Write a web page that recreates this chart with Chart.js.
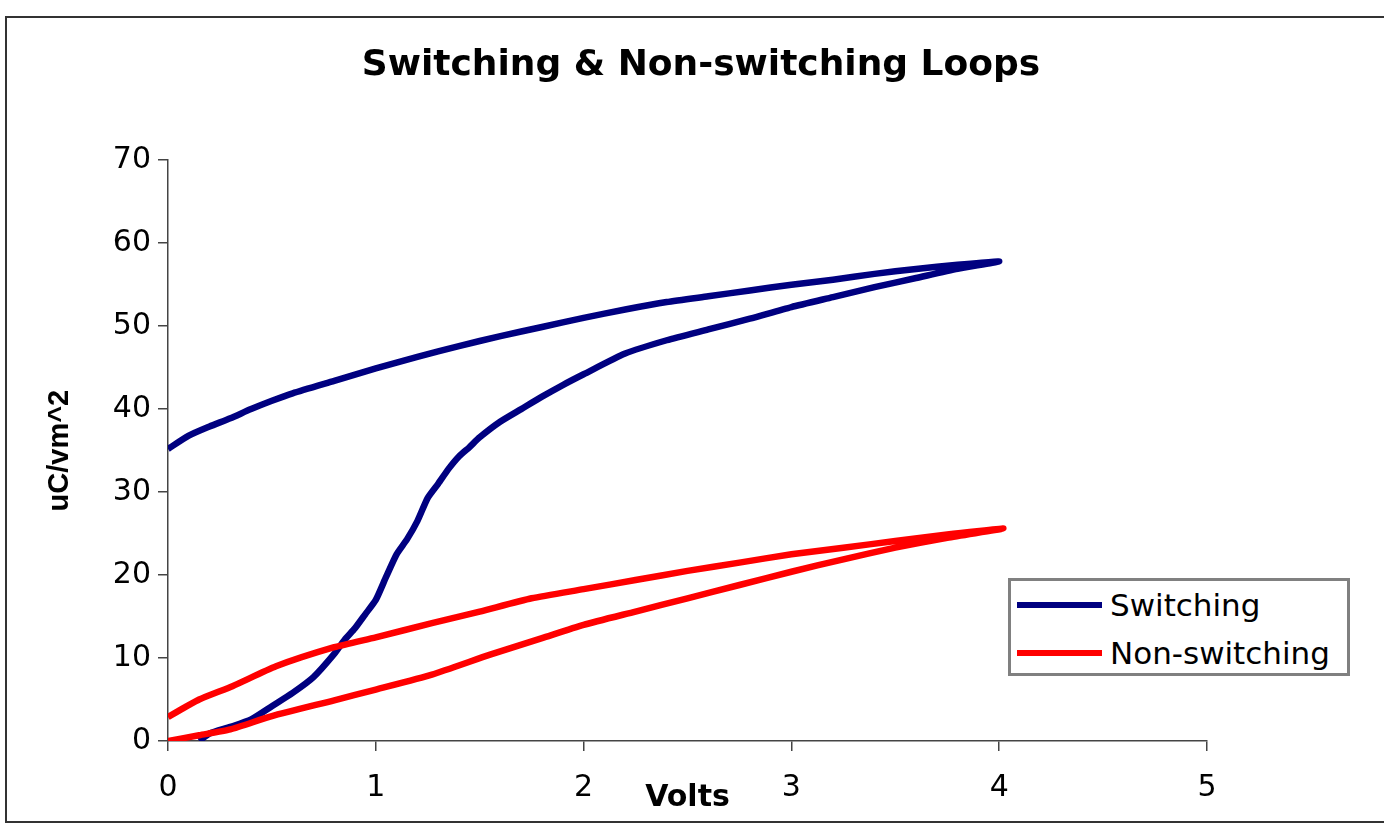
<!DOCTYPE html>
<html>
<head>
<meta charset="utf-8">
<script src="https://cdn.jsdelivr.net/npm/chart.js@4.4.1/dist/chart.umd.min.js"></script>
<style>
    body { margin: 0; background: #fff; overflow: hidden; }
    #wrap { position: relative; width: 1384px; height: 825px; }
    #frame { position: absolute; left: 5px; top: 16px; width: 1420px; height: 807px; border: 2px solid #333; box-sizing: border-box; pointer-events: none; }
    #legend { position: absolute; left: 1008px; top: 578px; width: 342px; height: 98px; border: 3px solid #808080; box-sizing: border-box; background: #fff; font-family: "DejaVu Sans", sans-serif; font-size: 31px; color: #000; }
    #legend .row { position: absolute; left: 6px; height: 40px; display: flex; align-items: center; }
    #legend .swatch { width: 85px; height: 6px; margin-right: 8px; }
</style>
</head>
<body>
<div id="wrap">
    <canvas id="loops" width="1384" height="825"></canvas>
    <div id="frame"></div>
    <div id="legend"></div>
</div>
<script>
// Tick labels
const xTicks = [0, 1, 2, 3, 4, 5];
const yTicks = [0, 10, 20, 30, 40, 50, 60, 70];

// Switching loop: rising branch, then falling branch back to 0 V
const switchingV = [0.15, 0.2, 0.3, 0.4, 0.5, 0.6, 0.7, 0.8, 0.85, 0.9, 0.95, 1.0, 1.05, 1.1, 1.15, 1.2, 1.25, 1.3, 1.35, 1.4, 1.45, 1.5,
    1.6, 1.7, 1.8, 1.9, 2.0, 2.2, 2.4, 2.6, 2.8, 3.0, 3.2, 3.4, 3.6, 3.8, 4.0,
    3.8, 3.6, 3.4, 3.2, 3.0, 2.8, 2.6, 2.4, 2.2, 2.0, 1.8, 1.6, 1.4, 1.2, 1.0, 0.8, 0.6, 0.5, 0.4, 0.3, 0.2, 0.1, 0];
const switchingQ = [0, 0.9, 1.7, 2.6, 4.2, 5.8, 7.7, 10.5, 12.2, 13.6, 15.3, 17, 19.8, 22.5, 24.3, 26.5, 29.3, 31, 32.8, 34.3, 35.4, 36.6,
    38.5, 40, 41.5, 42.9, 44.2, 46.7, 48.3, 49.6, 50.9, 52.3, 53.5, 54.7, 55.8, 56.9, 57.8,
    57.4, 56.9, 56.3, 55.6, 55.0, 54.3, 53.6, 52.9, 52.0, 51.0, 49.9, 48.8, 47.6, 46.3, 44.9, 43.4, 41.9, 41.0, 40.0, 38.9, 37.9, 36.8, 35.2];

// Non-switching loop
const nonSwitchingV = [0, 0.15, 0.3, 0.5, 0.8, 1.0, 1.27, 1.55, 1.8, 2.0, 2.25, 2.5, 2.75, 3.0, 3.25, 3.5, 3.75, 4.02,
    3.75, 3.5, 3.25, 3.0, 2.75, 2.5, 2.25, 2.0, 1.75, 1.5, 1.27, 1.0, 0.8, 0.52, 0.31, 0.15, 0];
const nonSwitchingQ = [0, 0.7, 1.4, 3.0, 4.9, 6.2, 8.0, 10.4, 12.4, 14.0, 15.6, 17.2, 18.8, 20.4, 21.9, 23.3, 24.5, 25.6,
    24.9, 24.1, 23.3, 22.5, 21.5, 20.5, 19.4, 18.3, 17.2, 15.6, 14.2, 12.5, 11.3, 9.0, 6.6, 5.0, 2.9];

function toPoints(xs, ys) {
    return xs.map((x, i) => ({ x: x, y: ys[i] }));
}

const axisColor = '#444';
const tickFont = { family: 'DejaVu Sans', size: 30 };

let chart = new Chart(document.getElementById('loops'), {
    type: 'scatter',
    data: {
        datasets: [
            {
                label: 'Switching',
                data: toPoints(switchingV, switchingQ),
                showLine: true,
                borderColor: '#000080',
                backgroundColor: '#000080',
                borderWidth: 6.5,
                pointRadius: 0,
                tension: 0.2,
                order: 2
            },
            {
                label: 'Non-switching',
                data: toPoints(nonSwitchingV, nonSwitchingQ),
                showLine: true,
                borderColor: '#ff0000',
                backgroundColor: '#ff0000',
                borderWidth: 6.5,
                pointRadius: 0,
                tension: 0.2,
                order: 1
            }
        ]
    },
    options: {
        responsive: false,
        animation: false,
        layout: { padding: { left: 18, right: 0, top: 0, bottom: 0 } },
        plugins: {
            legend: { display: false },
            tooltip: { enabled: false },
            title: {
                display: true,
                text: 'Switching & Non-switching Loops',
                color: '#000',
                font: { family: 'DejaVu Sans', size: 36, weight: 'bold' },
                padding: { top: 44, bottom: 73 }
            }
        },
        scales: {
            x: {
                type: 'linear',
                min: 0,
                max: 5,
                afterBuildTicks: (s) => { s.ticks = xTicks.map(v => ({ value: v })); },
                afterFit: (s) => { s.height = 84; },
                ticks: { color: '#000', font: tickFont, padding: 19, maxRotation: 0 },
                grid: { drawOnChartArea: false, drawTicks: true, tickLength: 10, color: axisColor, lineWidth: 1.5 },
                border: { color: axisColor, width: 1.5 },
                title: {
                    display: true,
                    text: 'Volts',
                    color: '#000',
                    font: { family: 'DejaVu Sans', size: 30, weight: 'bold' },
                    padding: { top: 0, bottom: 9 }
                }
            },
            y: {
                type: 'linear',
                min: 0,
                max: 70,
                afterBuildTicks: (s) => { s.ticks = yTicks.map(v => ({ value: v })); },
                afterFit: (s) => { s.width = 150; },
                ticks: { color: '#000', font: tickFont, padding: 7 },
                grid: { drawOnChartArea: false, drawTicks: true, tickLength: 10, color: axisColor, lineWidth: 1.5 },
                border: { color: axisColor, width: 1.5 },
                title: {
                    display: true,
                    text: 'uC/vm^2',
                    color: '#000',
                    font: { family: 'Liberation Sans', size: 29, weight: 'bold' },
                    padding: { top: 25, bottom: 0 }
                }
            },
            // empty right-hand margin, keeps the title centred on the frame
            spacer: {
                type: 'linear',
                position: 'right',
                min: 0,
                max: 70,
                ticks: { display: false },
                grid: { display: false },
                border: { display: false },
                afterFit: (s) => { s.width = 177; }
            }
        }
    }
});

// Legend box, built from the datasets
let legend = document.getElementById('legend');
chart.data.datasets.forEach((ds, i) => {
    let row = document.createElement('div');
    row.className = 'row';
    row.style.top = (4 + i * 48) + 'px';
    let sw = document.createElement('span');
    sw.className = 'swatch';
    sw.style.background = ds.borderColor;
    let txt = document.createElement('span');
    txt.textContent = ds.label;
    row.appendChild(sw);
    row.appendChild(txt);
    legend.appendChild(row);
});
</script>
</body>
</html>
